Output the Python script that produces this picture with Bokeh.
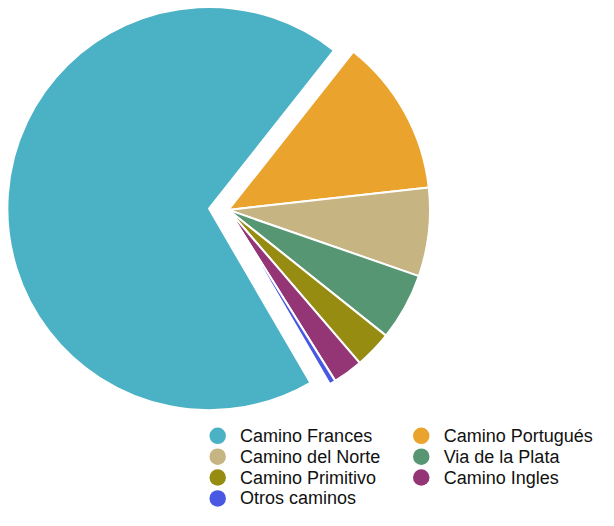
import numpy as np
from bokeh.plotting import figure
from bokeh.models import Range1d, ColumnDataSource
from bokeh.core.properties import value
from bokeh.embed import file_html
from bokeh.resources import INLINE

# ---- data ----
caminos = ["Camino Frances", "Camino Portugués", "Camino del Norte",
           "Via de la Plata", "Camino Primitivo", "Camino Ingles", "Otros caminos"]
porcentajes = [69.1, 12.6, 7.1, 5.4, 3.0, 2.4, 0.5]
colores = ["#4bb1c4", "#eaa32c", "#c7b483", "#569672", "#968c12", "#943576", "#4958e2"]
separado = [20, 0, 0, 0, 0, 0, 0]   # explode offset

# ---- layout (reference-image coordinates, y measured from the bottom) ----
REF_W, REF_H = 614, 526
W, H = 598, 510
cx, cy = 234, REF_H - 216      # pie centre
R = 207
start_deg = -59.8              # first slice starts here, runs clockwise

vals = np.array(porcentajes, dtype=float)
sweep = vals / vals.sum() * 2 * np.pi
a_start = np.deg2rad(start_deg) - np.concatenate([[0], np.cumsum(sweep)[:-1]])
a_end = a_start - sweep
mid = (a_start + a_end) / 2
xs = cx + np.array(separado) * np.cos(mid)
ys = cy + np.array(separado) * np.sin(mid)

pie = ColumnDataSource(dict(x=xs, y=ys, s=a_end, e=a_start, color=colores, name=caminos))

p = figure(width=W, height=H, output_backend="svg", toolbar_location=None,
           x_range=Range1d(0, REF_W), y_range=Range1d(0, REF_H),
           x_axis_location=None, y_axis_location=None, min_border=0,
           outline_line_color=None, background_fill_color="white",
           border_fill_color="white")
p.grid.visible = False

p.wedge(x="x", y="y", radius=R, radius_units="data", start_angle="s", end_angle="e",
        fill_color="color", line_color="white", line_width=2, source=pie)

# ---- legend (two columns, filled row by row) ----
idx = np.arange(len(caminos))
col = idx % 2
row = idx // 2
mk_x = 223 + col * 209
tx_x = mk_x + 23
ly = REF_H - (449 + row * 21.5)
leg = ColumnDataSource(dict(mx=mk_x, tx=tx_x, y=ly, color=colores, name=caminos))
p.scatter(x="mx", y="y", size=16.5, marker="circle", fill_color="color",
          line_color=None, source=leg)
p.text(x="tx", y="y", text="name", text_baseline="middle", text_align="left",
       text_font=value("Liberation Sans"), text_font_size="18px",
       text_color="#111111", source=leg)

open("out.html", "w").write(file_html(p, INLINE))
